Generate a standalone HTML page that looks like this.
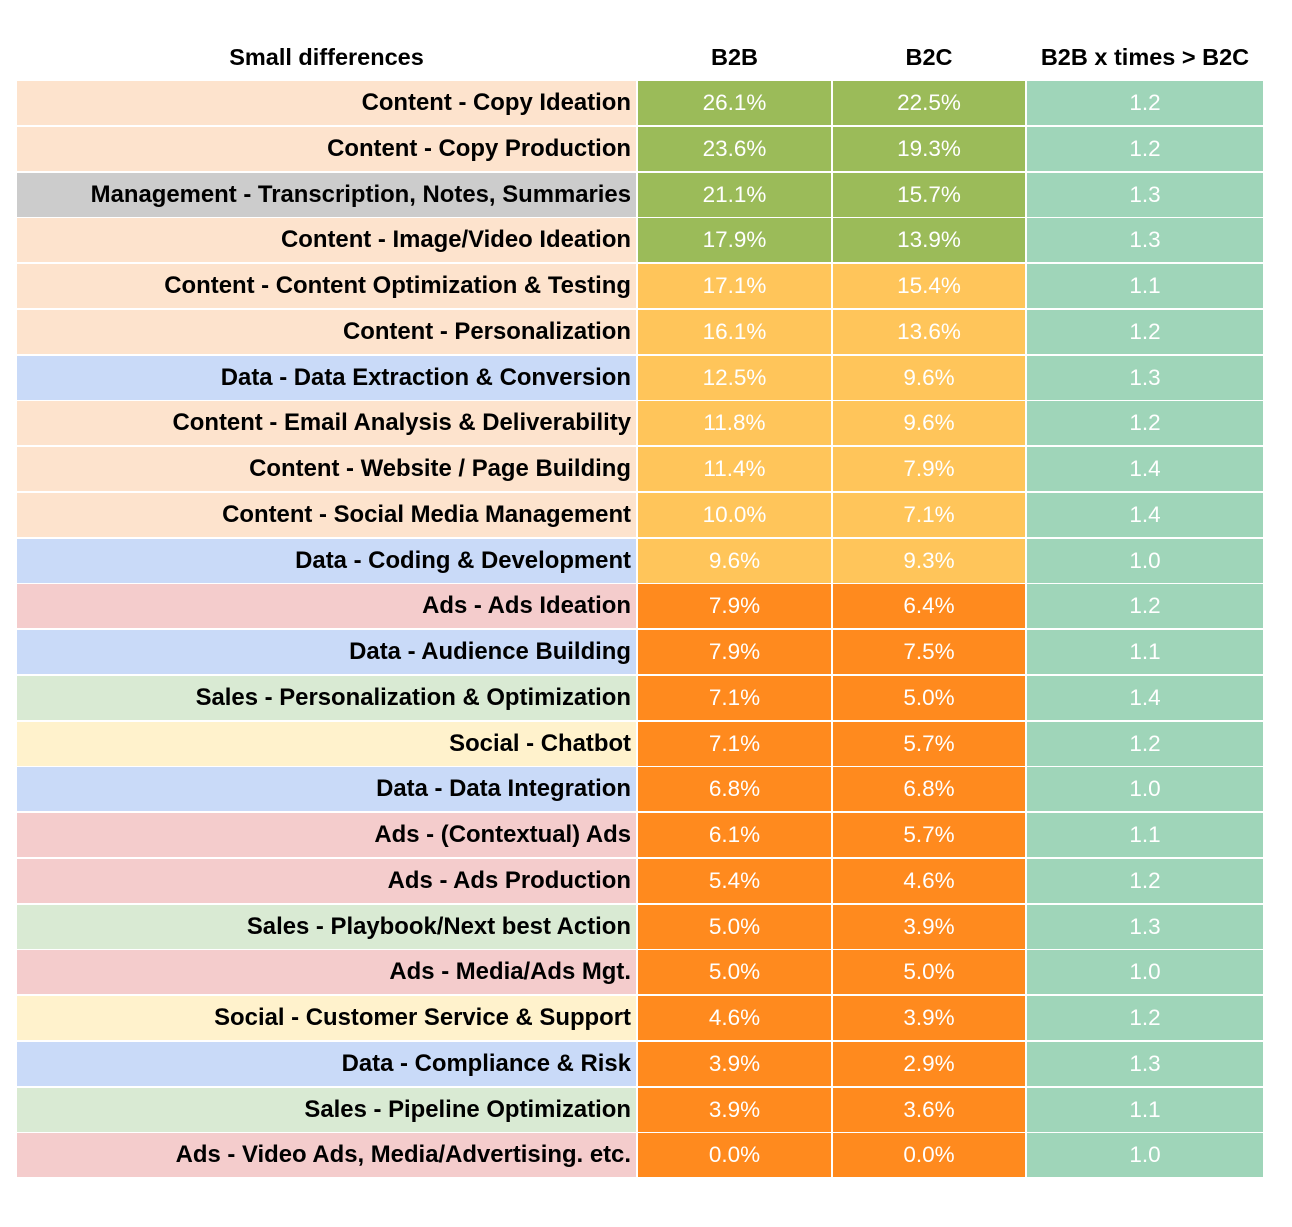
<!DOCTYPE html>
<html><head><meta charset="utf-8"><style>
body{margin:0;width:1292px;height:1227px;background:#fff;font-family:"Liberation Sans",Arial,sans-serif;position:relative;overflow:hidden}
.h{position:absolute;top:40px;height:34px;line-height:34px;font-weight:bold;font-size:23.5px;text-align:center;color:#000}
.r{position:absolute;left:17px;width:1246px;height:44px}
.r div{position:absolute;top:0;height:44px;line-height:44px}
.l{left:0;width:619px;text-align:right;font-weight:bold;color:#000;box-sizing:border-box;padding-right:5px;font-size:23.9px;white-space:nowrap}
.b{left:621px;width:193px;text-align:center;color:#fff;font-size:22.5px}
.c{left:816px;width:192px;text-align:center;color:#fff;font-size:22.5px}
.x{left:1010px;width:236px;text-align:center;color:#fff;background:#9fd5b9;font-size:22.5px}
</style></head><body>
<div class="h" style="left:17px;width:619px">Small differences</div>
<div class="h" style="left:638px;width:193px">B2B</div>
<div class="h" style="left:833px;width:192px">B2C</div>
<div class="h" style="left:1027px;width:236px">B2B x times &gt; B2C</div>
<div id="t"></div>
<script>
var P="#fde3cd",G="#cccccc",B="#c9daf8",K="#f4cccc",L="#d9ead3",Y="#fff2cc";
var g="#9bbb59",y="#ffc55a",o="#ff8a1e";
var d=[
["Content - Copy Ideation",P,"26.1%","22.5%","1.2",g],
["Content - Copy Production",P,"23.6%","19.3%","1.2",g],
["Management - Transcription, Notes, Summaries",G,"21.1%","15.7%","1.3",g],
["Content - Image/Video Ideation",P,"17.9%","13.9%","1.3",g],
["Content - Content Optimization &amp; Testing",P,"17.1%","15.4%","1.1",y],
["Content - Personalization",P,"16.1%","13.6%","1.2",y],
["Data - Data Extraction &amp; Conversion",B,"12.5%","9.6%","1.3",y],
["Content - Email Analysis &amp; Deliverability",P,"11.8%","9.6%","1.2",y],
["Content - Website / Page Building",P,"11.4%","7.9%","1.4",y],
["Content - Social Media Management",P,"10.0%","7.1%","1.4",y],
["Data - Coding &amp; Development",B,"9.6%","9.3%","1.0",y],
["Ads - Ads Ideation",K,"7.9%","6.4%","1.2",o],
["Data - Audience Building",B,"7.9%","7.5%","1.1",o],
["Sales - Personalization &amp; Optimization",L,"7.1%","5.0%","1.4",o],
["Social - Chatbot",Y,"7.1%","5.7%","1.2",o],
["Data - Data Integration",B,"6.8%","6.8%","1.0",o],
["Ads - (Contextual) Ads",K,"6.1%","5.7%","1.1",o],
["Ads - Ads Production",K,"5.4%","4.6%","1.2",o],
["Sales - Playbook/Next best Action",L,"5.0%","3.9%","1.3",o],
["Ads - Media/Ads Mgt.",K,"5.0%","5.0%","1.0",o],
["Social - Customer Service &amp; Support",Y,"4.6%","3.9%","1.2",o],
["Data - Compliance &amp; Risk",B,"3.9%","2.9%","1.3",o],
["Sales - Pipeline Optimization",L,"3.9%","3.6%","1.1",o],
["Ads - Video Ads, Media/Advertising. etc.",K,"0.0%","0.0%","1.0",o]];
var h="";
d.forEach(function(r,i){var top=81+i*45.75;
h+='<div class="r" style="top:'+top+'px"><div class="l" style="background:'+r[1]+'">'+r[0]+'</div><div class="b" style="background:'+r[5]+'">'+r[2]+'</div><div class="c" style="background:'+r[5]+'">'+r[3]+'</div><div class="x">'+r[4]+'</div></div>';});
document.getElementById("t").innerHTML=h;
</script>
</body></html>
